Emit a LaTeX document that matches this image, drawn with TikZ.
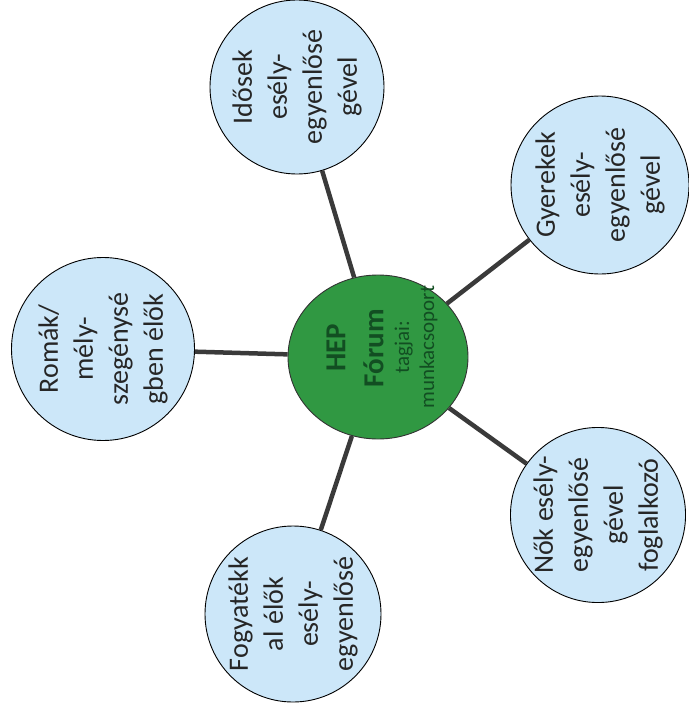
\documentclass[tikz,border=0pt]{standalone}
\usepackage{fontspec}
\setmainfont{Carlito}
\usetikzlibrary{shapes.geometric}
\definecolor{bubble}{RGB}{204,231,249}
\definecolor{hubfill}{RGB}{48,152,66}
\definecolor{hubtext}{RGB}{18,78,34}
\definecolor{conncol}{RGB}{58,58,58}
\tikzset{
  bubble/.style={circle, draw=black, line width=0.9pt, fill=bubble, minimum size=176pt,
    inner sep=0pt, rotate=90, align=center, text=black!85, font=\fontsize{28}{35}\selectfont},
  hub/.style={ellipse, draw=black!80, line width=0.9pt, fill=hubfill, minimum width=164pt,
    minimum height=180pt, inner sep=0pt, rotate=90},
  hubbig/.style={rotate=90, align=center, inner sep=0pt, text=hubtext, font=\bfseries\fontsize{29}{38}\selectfont},
  hubsmall/.style={rotate=90, align=center, inner sep=0pt, text=hubtext, font=\fontsize{21}{25}\selectfont},
  conn/.style={draw=conncol, line width=4.5pt}
}
\begin{document}
\begin{tikzpicture}[x=1pt,y=-1pt]
\useasboundingbox (0,0) rectangle (688,709);
\node[hub] (hub) at (378,357) {};
\node[hubbig] (hubtitle) at (355,348) {HEP\\Fórum};
\node[hubsmall] (hubsub) at (416,347) {tagjai:\\munkacsoport};
\node[bubble, minimum size=183pt] (romak) at (103,349) {Romák/\\mély-\\szegénysé\\gben élők};
\node[bubble, minimum size=174pt] (idosek) at (297,87) {Idősek\\esély-\\egyenlősé\\gével};
\node[bubble, minimum size=178pt] (gyerekek) at (600,185) {Gyerekek\\esély-\\egyenlősé\\gével};
\node[bubble, minimum size=174pt] (nok) at (598,515) {Nők esély-\\egyenlősé\\gével\\foglalkozó};
\node[bubble, minimum size=176pt] (fogy) at (293,614) {Fogyatékk\\al élők\\esély-\\egyenlősé};
\draw[conn] (hub) -- (romak);
\draw[conn] (hub) -- (idosek);
\draw[conn] (hub) -- (gyerekek);
\draw[conn] (hub) -- (nok);
\draw[conn] (hub) -- (fogy);
\end{tikzpicture}
\end{document}
